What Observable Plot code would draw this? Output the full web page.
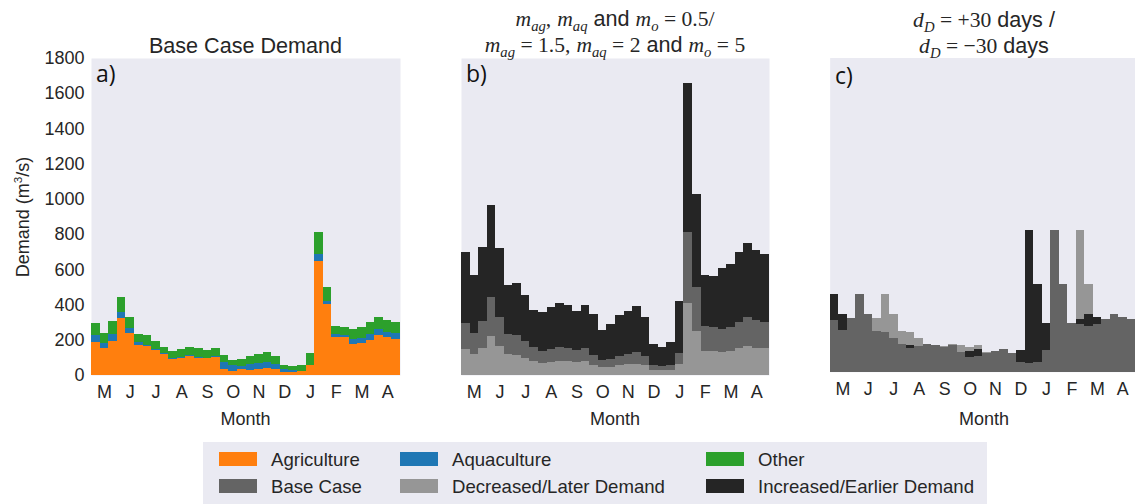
<!DOCTYPE html>
<html><head><meta charset="utf-8">
<script src="https://cdn.jsdelivr.net/npm/d3@7"></script>
<script src="https://cdn.jsdelivr.net/npm/@observablehq/plot@0.6"></script>
<style>
body{margin:0;background:#fff;}
#root{position:relative;width:1135px;height:504px;overflow:hidden;font-family:"Liberation Sans",Arial,sans-serif;color:#262626;}
.panel{position:absolute;top:0;}
.abs{position:absolute;white-space:nowrap;line-height:1;}
.c{transform:translateX(-50%);}
.title{font-size:21.6px;}
.lab{font-size:18px;}
.pl{font-family:"Open Sans",sans-serif;font-size:23px;color:#111;}
.mi{font-family:"Liberation Serif","DejaVu Serif",serif;font-style:italic;}
.mr{font-family:"Liberation Serif","DejaVu Serif",serif;}
sub{font-family:"Liberation Serif",serif;font-style:italic;font-size:68%;vertical-align:-0.35em;line-height:0;}
.legend{position:absolute;left:203px;top:442px;width:784px;height:64px;background:#EAEAF2;}
.sw{position:absolute;width:38px;height:14px;}
.lt{position:absolute;font-size:18.6px;line-height:1;white-space:nowrap;}
</style></head><body><div id="root"></div>
<script>
const months = ["M","J","J","A","S","O","N","D","J","F","M","A"];
const agriculture = [189,155,193,324,238,170,167,144,121,93,98,110,98,95,104,34,25,32,28,34,42,34,17,15,23,57,647,403,218,216,178,182,201,227,216,204];
const aquaculture = [38,27,42,34,31,19,3,3,3,3,3,3,3,3,3,40,32,21,34,36,32,28,15,13,0,0,40,17,15,11,26,28,32,34,28,34];
const other = [68,56,72,85,60,44,57,46,35,40,47,46,52,44,46,40,28,38,46,49,54,46,25,23,34,68,125,80,45,45,57,62,68,68,68,63];
const baseCase = [295,238,307,443,329,233,227,193,159,136,148,159,153,142,153,114,85,91,108,119,128,108,57,51,57,125,812,500,278,272,261,272,301,329,312,301];
const decreasedDemand = [148,119,154,222,165,117,114,97,80,68,74,80,77,71,77,57,43,46,54,60,64,54,29,26,29,63,406,250,139,136,131,136,151,165,156,151];
const increasedDemand = [698,568,725,968,720,512,525,454,370,355,387,408,395,362,395,345,255,287,340,362,394,328,178,161,190,422,1660,1030,570,560,606,630,698,749,710,685];
const earlierDemand = [443,329,233,227,193,159,136,148,159,153,142,153,114,85,91,108,119,128,108,57,51,57,125,812,500,278,272,261,272,301,329,312,301,null,null,null];
const laterDemand = [null,null,null,295,238,307,443,329,233,227,193,159,136,148,159,153,142,153,114,85,91,108,119,128,108,57,51,57,125,812,500,278,272,261,272,301];
const yTicks = [0,200,400,600,800,1000,1200,1400,1600,1800];
const sectorNames = ["Agriculture","Aquaculture","Other"];
const sectorColors = ["#FF7F0E","#1F77B4","#2CA02C"];
const scenarioNames = ["Base Case","Decreased/Later Demand","Increased/Earlier Demand"];
const scenarioColors = ["#646464","#969696","#252525"];

const BG = "#EAEAF2";
const font = '"Liberation Sans", Arial, sans-serif';
const nBins = agriculture.length;
const tickIdx = months.map((m,k)=>3*k+1);
const root = document.getElementById("root");

function xScale(){
  return {type:"band", domain:d3.range(nBins), padding:0, round:false, ticks:tickIdx,
          tickFormat:i=>months[(i-1)/3], tickSize:0, tickPadding:10, label:null};
}
function basePlot(opts, marks, showY){
  return Plot.plot({
    width:opts.width, height:440,
    marginLeft:opts.ml, marginRight:opts.mr, marginTop:58, marginBottom:65,
    style:{fontFamily:font, fontSize:"18px", color:"#262626", background:"transparent", overflow:"visible"},
    x:xScale(),
    y:showY ? {domain:[0,1800], ticks:yTicks, tickFormat:d3.format("d"), tickSize:0, tickPadding:7, label:null}
            : {domain:[0,1800], axis:null},
    color:{domain:sectorNames, range:sectorColors},
    marks:[Plot.frame({fill:BG, stroke:"none"}), ...marks]
  });
}
function place(svg, left){
  const d = document.createElement("div");
  d.className = "panel"; d.style.left = left+"px";
  d.appendChild(svg); root.appendChild(d);
}

// Panel a: stacked sectors
const rowsA = [];
for (let i=0;i<nBins;i++){
  rowsA.push({i, series:"Agriculture", v:agriculture[i]});
  rowsA.push({i, series:"Aquaculture", v:aquaculture[i]});
  rowsA.push({i, series:"Other", v:other[i]});
}
place(basePlot({width:410, ml:91, mr:10}, [
  Plot.barY(rowsA, {x:"i", y:"v", fill:"series", shapeRendering:"crispEdges"})
], true), 0);

function layer(arr, color){
  return Plot.barY(arr, {x:(d,i)=>i, y:d=>d, fill:color, shapeRendering:"crispEdges"});
}
// Panel b: multipliers
place(basePlot({width:360, ml:41, mr:11}, [
  layer(increasedDemand, scenarioColors[2]),
  layer(baseCase, scenarioColors[0]),
  layer(decreasedDemand, scenarioColors[1])
], false), 420);
// Panel c: timing shift
place(basePlot({width:348, ml:40, mr:0}, [
  layer(laterDemand, scenarioColors[1]),
  layer(earlierDemand, scenarioColors[2]),
  layer(baseCase, scenarioColors[0])
], false), 790);

function addText(html, cls, left, top){
  const d = document.createElement("div");
  d.className = "abs "+cls; d.innerHTML = html;
  d.style.left = left+"px"; d.style.top = top+"px";
  root.appendChild(d); return d;
}
// titles
addText("Base Case Demand", "title c", 245.5, 35);
addText('<span class="mi">m</span><sub>ag</sub><span class="mr">,</span> <span class="mi">m</span><sub>aq</sub> and <span class="mi">m</span><sub>o</sub><span class="mr"> = 0.5/</span>', "title c", 615, 8);
addText('<span class="mi">m</span><sub>ag</sub><span class="mr"> = 1.5,</span> <span class="mi">m</span><sub>aq</sub><span class="mr"> = 2</span> and <span class="mi">m</span><sub>o</sub><span class="mr"> = 5</span>', "title c", 615, 34);
addText('<span class="mi">d</span><sub>D</sub><span class="mr"> = +30</span> days /', "title c", 984, 9);
addText('<span class="mi">d</span><sub>D</sub><span class="mr"> = \u221230</span> days', "title c", 984, 35);
// panel labels
addText("a)", "pl", 96, 62);
addText("b)", "pl", 466, 62);
addText("c)", "pl", 835, 64);
// x labels
addText("Month", "lab c", 245.5, 410);
addText("Month", "lab c", 615, 410);
addText("Month", "lab c", 984, 410);
// y label
const yl = addText("Demand (m<sup style=\"font-size:65%\">3</sup>/s)", "lab", 22, 216.5);
yl.style.transform = "translate(-50%,-50%) rotate(-90deg)";

// legend
const leg = document.createElement("div");
leg.className = "legend"; root.appendChild(leg);
const legItems = [
  [sectorNames[0], sectorColors[0]], [sectorNames[1], sectorColors[1]], [sectorNames[2], sectorColors[2]],
  [scenarioNames[0], scenarioColors[0]], [scenarioNames[1], scenarioColors[1]], [scenarioNames[2], scenarioColors[2]]
];
const colX = [16, 197, 503];
const rowY = [10, 37];
legItems.forEach((it,k)=>{
  const c = k%3, r = Math.floor(k/3);
  const sw = document.createElement("div");
  sw.className = "sw"; sw.style.background = it[1];
  sw.style.left = colX[c]+"px"; sw.style.top = rowY[r]+"px";
  leg.appendChild(sw);
  const t = document.createElement("div");
  t.className = "lt"; t.textContent = it[0];
  t.style.left = (colX[c]+52)+"px"; t.style.top = (rowY[r]-1)+"px";
  leg.appendChild(t);
});
</script></body></html>
